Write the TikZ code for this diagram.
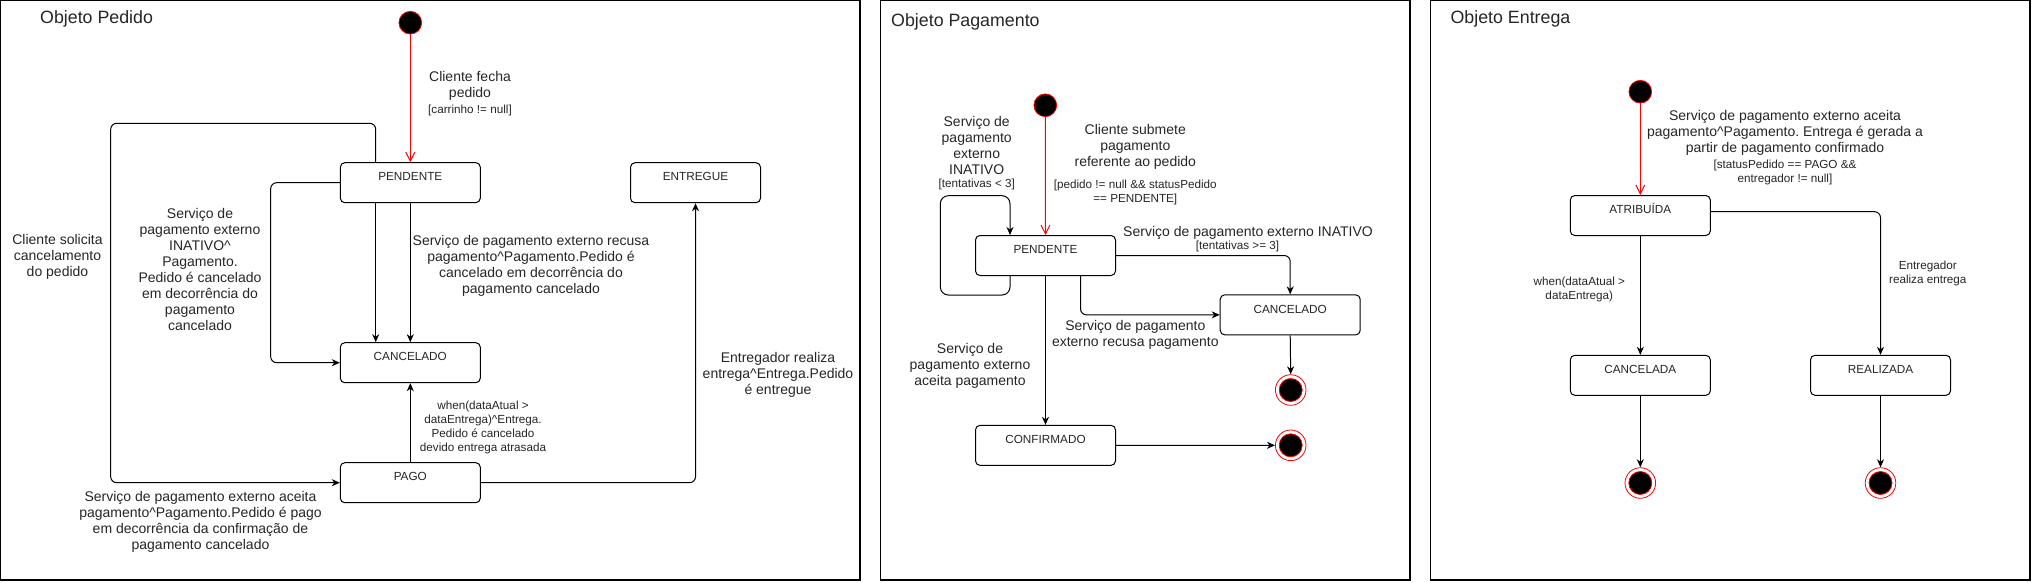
\documentclass[tikz,border=0pt]{standalone}
\usepackage{fontspec}
\setmainfont{Liberation Sans}
\usetikzlibrary{arrows.meta,calc}
\frenchspacing
\begin{document}
\begin{tikzpicture}[x=1pt,y=-1pt,
  every node/.style={inner sep=0pt, text=black!85},
  frame/.style={draw=black, line width=1.2pt},
  title/.style={anchor=base west, font=\fontsize{17.8}{20}\selectfont},
  state/.style={draw=black, line width=1pt, rounded corners=4.5pt, minimum width=140pt,
    text height=18.2pt, text depth=21.8pt, font=\fontsize{11.75}{14}\selectfont},
  init/.style={circle, fill=black, draw=red, line width=0.8pt, minimum size=22.7pt},
  fin/.style={circle, draw=red, fill=white, line width=0.8pt, minimum size=30.6pt},
  fininner/.style={circle, fill=black, draw=red, line width=0.8pt, minimum size=23pt},
  tr/.style={draw=black, line width=1pt, -{Stealth[length=8pt,width=7pt,inset=2.5pt]}, rounded corners=6pt},
  itr/.style={draw=red, line width=1pt, -{Straight Barb[length=9pt,width=9pt]}},
  lbl/.style={align=center, font=\fontsize{14}{16}\selectfont},
  grd/.style={align=center, font=\fontsize{11.7}{14}\selectfont}
]
\useasboundingbox (0,0) rectangle (2032,582);
\fill[white] (0,0) rectangle (2032,582);

% frames
\draw[frame] (0.6,0.6) rectangle (860,580);
\draw[frame] (880.5,0.6) rectangle (1410,580);
\draw[frame] (1430.5,0.6) rectangle (2030,580);

\node[title] (t1) at (40,23.3) {Objeto Pedido};
\node[title] (t2) at (891,26) {Objeto Pagamento};
\node[title] (t3) at (1450.4,23.3) {Objeto Entrega};

% ---------------- Panel 1: Pedido
\node[init] (i1) at (410.3,22.7) {};
\node[state] (p1) at (410.3,182.7) {PENDENTE};
\node[state] (c1) at (410.3,362.7) {CANCELADO};
\node[state] (g1) at (410.3,482.7) {PAGO};
\node[state, minimum width=130pt] (e1) at (695.5,182.7) {ENTREGUE};

\draw[itr] (i1.south) -- (p1.north);
\draw[tr] ([xshift=-34.6pt]p1.south) -- ([xshift=-34.6pt]c1.north);
\draw[tr] (p1.south) -- (c1.north);
\draw[tr] (p1.west) -| (270.7,362.7) -- (c1.west);
\draw[tr] ([xshift=-34.6pt]p1.north) |- (110.7,123.3) |- (g1.west);
\draw[tr] (g1.north) -- (c1.south);
\draw[tr] (g1.east) -| (e1.south);

\node[lbl] (l1a) at (470,86) {Cliente fecha\\pedido};
\node[grd] (l1ag) at (470,110) {[carrinho != null]};
\node[lbl] (l1b) at (57.5,257) {Cliente solicita\\cancelamento\\do pedido};
\node[lbl] (l1c) at (200,269.2) {Serviço de\\pagamento externo\\INATIVO\textasciicircum\\Pagamento.\\Pedido é cancelado\\em decorrência do\\pagamento\\cancelado};
\node[lbl] (l1d) at (531,266) {Serviço de pagamento externo recusa\\pagamento\textasciicircum Pagamento.Pedido é\\cancelado em decorrência do\\pagamento cancelado};
\node[lbl] (l1e) at (200.5,521.7) {Serviço de pagamento externo aceita\\pagamento\textasciicircum Pagamento.Pedido é pago\\em decorrência da confirmação de\\pagamento cancelado};
\node[grd] (l1f) at (483,427) {when(dataAtual >\\dataEntrega)\textasciicircum Entrega.\\Pedido é cancelado\\devido entrega atrasada};
\node[lbl] (l1g) at (778,375.3) {Entregador realiza\\entrega\textasciicircum Entrega.Pedido\\é entregue};

% ---------------- Panel 2: Pagamento
\node[init] (i2) at (1045.3,105.3) {};
\node[state] (p2) at (1045.5,255.5) {PENDENTE};
\node[state] (c2) at (1290.2,314.85) {CANCELADO};
\node[state] (k2) at (1045.5,445.35) {CONFIRMADO};
\node[fin] (f2a) at (1290.7,390) {};
\node[fininner] (f2ai) at (1290.7,390) {};
\node[fin] (f2b) at (1290.7,445.3) {};
\node[fininner] (f2bi) at (1290.7,445.3) {};

\draw[itr] (i2.south) -- (p2.north);
\draw[tr, rounded corners=8pt] ([xshift=-35.5pt]p2.south) |- (940.3,295) |- (1010,195.7) -- ([xshift=-35.5pt]p2.north);
\draw[tr] (p2.east) -| (c2.north);
\draw[tr] ([xshift=35pt]p2.south) |- (c2.west);
\draw[tr] (p2.south) -- (k2.north);
\draw[tr] (c2.south) -- (f2a.north);
\draw[tr] (k2.east) -- (f2b.west);

\node[lbl] (l2a) at (976.7,145.4) {Serviço de\\pagamento\\externo\\INATIVO};
\node[grd] (l2ag) at (976.7,184.3) {[tentativas < 3]};
\node[lbl] (l2b) at (1135.3,147.2) {Cliente submete\\pagamento\\referente ao pedido};
\node[grd] (l2bg) at (1135.3,192) {[pedido != null \&\& statusPedido\\== PENDENTE]};
\node[lbl] (l2c) at (1248,232.7) {Serviço de pagamento externo INATIVO};
\node[grd] (l2cg) at (1237.5,246.7) {[tentativas >= 3]};
\node[lbl] (l2d) at (1135.3,335.3) {Serviço de pagamento\\externo recusa pagamento};
\node[lbl] (l2e) at (970,365.5) {Serviço de\\pagamento externo\\aceita pagamento};

% ---------------- Panel 3: Entrega
\node[init] (i3) at (1640.3,91.7) {};
\node[state] (a3) at (1640.3,215.5) {ATRIBUÍDA};
\node[state] (c3) at (1640.3,375.3) {CANCELADA};
\node[state] (r3) at (1880.5,375.3) {REALIZADA};
\node[fin] (f3a) at (1640.3,483) {};
\node[fininner] (f3ai) at (1640.3,483) {};
\node[fin] (f3b) at (1880.5,483) {};
\node[fininner] (f3bi) at (1880.5,483) {};

\draw[itr] (i3.south) -- (a3.north);
\draw[tr] (a3.south) -- (c3.north);
\draw[tr] ([yshift=3.8pt]a3.east) -| (r3.north);
\draw[tr] (c3.south) -- (f3a.north);
\draw[tr] (r3.south) -- (f3b.north);

\node[lbl] (l3a) at (1785,132.5) {Serviço de pagamento externo aceita\\pagamento\textasciicircum Pagamento. Entrega é gerada a\\partir de pagamento confirmado};
\node[grd] (l3ag) at (1785,172) {[statusPedido == PAGO \&\&\\entregador != null]};
\node[grd] (l3b) at (1579.3,289.2) {when(dataAtual >\\dataEntrega)};
\node[grd] (l3c) at (1927.8,273.9) {Entregador\\realiza entrega};
\end{tikzpicture}
\end{document}
